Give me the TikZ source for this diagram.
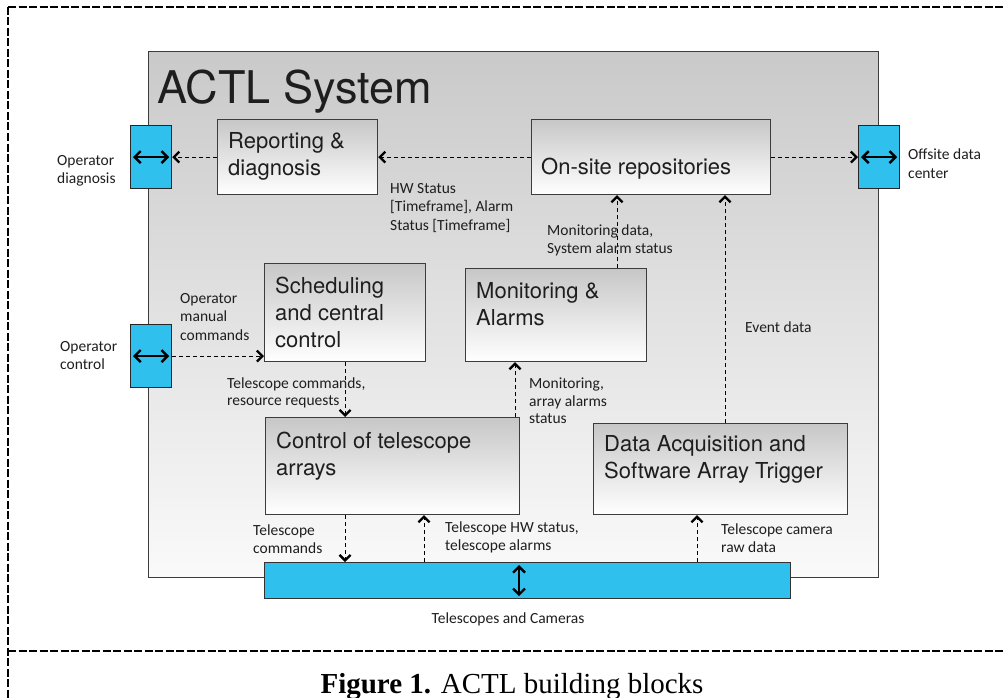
\documentclass[tikz,border=0pt]{standalone}
\usepackage{fontspec}
\setmainfont{TeX Gyre Heros}
\newfontfamily\lblfont{Carlito}
\newfontfamily\capfont{Liberation Serif}
\usetikzlibrary{arrows.meta,calc}

\definecolor{portblue}{HTML}{2FC0EE}
\definecolor{edgegray}{HTML}{3C3C3C}
\definecolor{inktext}{HTML}{1E1E1E}

\begin{document}
\begin{tikzpicture}[x=1pt,y=-1pt,
  sysbox/.style={draw=edgegray, line width=1pt, top color=black!21, bottom color=black!2,
    inner sep=0, anchor=north west},
  block/.style={draw=edgegray, line width=1.2pt, top color=black!22, bottom color=white,
    inner sep=0, anchor=north west},
  port/.style={draw=black!85, line width=1.2pt, fill=portblue, inner sep=0,
    anchor=north west, minimum width=41pt, minimum height=63pt},
  blocktext/.style={anchor=north west, inner sep=0, align=left, text=inktext,
    font=\fontsize{22}{27}\selectfont},
  note/.style={anchor=north west, inner sep=0, align=left, text=inktext,
    font=\lblfont\fontsize{15.5}{18.5}\selectfont},
  flow/.style={line width=0.9pt, dash pattern=on 4pt off 3pt,
    -{Straight Barb[length=5.5pt,width=11pt,line width=2.3pt]}},
  both/.style={line width=1.3pt,
    {Straight Barb[length=6pt,width=12pt,line width=2.4pt]}-{Straight Barb[length=6pt,width=12pt,line width=2.4pt]}},
  frame/.style={dash pattern=on 8pt off 2.5pt}
]
\useasboundingbox (0,0) rectangle (1003,698);

% outer dashed frame and caption divider
\draw[frame, line width=1.1pt] (8,7) -- (1003,7);
\draw[frame, line width=1.7pt] (8,7) -- (8,698);
\draw[frame, line width=1.5pt] (8,651) -- (1003,651);

% the ACTL system enclosure
\node[sysbox, minimum width=730pt, minimum height=526pt] (actl) at (148,51) {};
\node[anchor=north west, inner sep=0, text=inktext, font=\fontsize{45}{50}\selectfont]
  (title) at (157,70) {ACTL System};

% building blocks
\node[block, minimum width=160pt, minimum height=75pt] (rep)    at (217,119) {};
\node[block, minimum width=239pt, minimum height=75pt] (onsite) at (531,119) {};
\node[block, minimum width=161pt, minimum height=98pt] (sched)  at (264,263) {};
\node[block, minimum width=181pt, minimum height=93pt] (mon)    at (465,268) {};
\node[block, minimum width=254pt, minimum height=97pt] (ctrl)   at (265,417) {};
\node[block, minimum width=254pt, minimum height=91pt] (daq)    at (593,423) {};

\node[blocktext] (reptext)    at (228,132) {Reporting \&\\diagnosis};
\node[blocktext] (onsitetext) at (541,158) {On-site repositories};
\node[blocktext] (schedtext)  at (275,277) {Scheduling\\and central\\control};
\node[blocktext] (montext)    at (476,282) {Monitoring \&\\Alarms};
\node[blocktext] (ctrltext)   at (276,432) {Control of telescope\\arrays};
\node[blocktext] (daqtext)    at (604,435) {Data Acquisition and\\Software Array Trigger};

% external interfaces
\node[port] (pdiag) at (130,125) {};
\node[port] (poff)  at (858,125) {};
\node[port] (pctl)  at (130,324) {};
\node[draw=black!80, line width=1.2pt, fill=portblue, inner sep=0, anchor=north west,
  minimum width=526pt, minimum height=36pt] (tel) at (264,562) {};

\draw[both] ($(pdiag.west)+(3,0)$) -- ($(pdiag.east)+(-3,0)$);
\draw[both] ($(poff.west)+(3,0)$)  -- ($(poff.east)+(-3,0)$);
\draw[both] ($(pctl.west)+(3,0)$)  -- ($(pctl.east)+(-3,0)$);
\coordinate (xb) at (519,0);
\draw[both] ($(tel.north -| xb)+(0,3)$) -- ($(tel.south -| xb)+(0,-3)$);

% data flows
\coordinate (xm) at (515,0);
\coordinate (xo) at (617,0);
\coordinate (xe) at (725,0);
\coordinate (xc) at (345,0);
\coordinate (xh) at (424,0);
\coordinate (xr) at (697,0);

\draw[flow] (rep.west) -- (pdiag.east);
\draw[flow] (onsite.west) -- (rep.east);
\draw[flow] (onsite.east) -- (poff.west);
\draw[flow] (pctl.east) -- (pctl.east -| sched.west);
\draw[flow] (sched.south) -- (sched.south |- ctrl.north);
\draw[flow] (ctrl.north -| xm) -- (mon.south -| xm);
\draw[flow] (mon.north -| xo) -- (onsite.south -| xo);
\draw[flow] (daq.north -| xe) -- (onsite.south -| xe);
\draw[flow] (ctrl.south -| xc) -- (tel.north -| xc);
\draw[flow] (tel.north -| xh) -- (ctrl.south -| xh);
\draw[flow] (tel.north -| xr) -- (daq.south -| xr);

% flow labels
\node[note] (ldiag)  at (57,155)  {Operator\\diagnosis};
\node[note] (loff)   at (908,149) {Offsite data\\center};
\node[note] (lctl)   at (60,341)  {Operator\\control};
\node[note] (lhw)    at (390,183) {HW Status\\{}[Timeframe], Alarm\\Status [Timeframe]};
\node[note, font=\lblfont\fontsize{15.5}{17.5}\selectfont] (lmdata) at (547,225)
  {Monitoring data,\\System alarm status};
\node[note] (lman)   at (180,293) {Operator\\manual\\commands};
\node[note] (levent) at (745,322) {Event data};
\node[note, font=\lblfont\fontsize{15.5}{17}\selectfont] (lreq) at (227,378)
  {Telescope commands,\\resource requests};
\node[note, font=\lblfont\fontsize{15.5}{17.5}\selectfont] (lmarr) at (529,378)
  {Monitoring,\\array alarms\\status};
\node[note, font=\lblfont\fontsize{15.5}{17.5}\selectfont] (ltcmd) at (253,525)
  {Telescope\\commands};
\node[note, font=\lblfont\fontsize{15.5}{17.5}\selectfont] (lthw) at (445,522)
  {Telescope HW status,\\telescope alarms};
\node[note, font=\lblfont\fontsize{15.5}{17.5}\selectfont] (lraw) at (721,524)
  {Telescope camera\\raw data};
\node[note, anchor=north, align=center] (ltel) at (508,613) {Telescopes and Cameras};

% caption
\node[anchor=base, inner sep=0, text=black, font=\capfont\fontsize{29}{32}\selectfont]
  (caption) at (512,693) {\textbf{Figure 1.} ACTL building blocks};
\end{tikzpicture}
\end{document}
